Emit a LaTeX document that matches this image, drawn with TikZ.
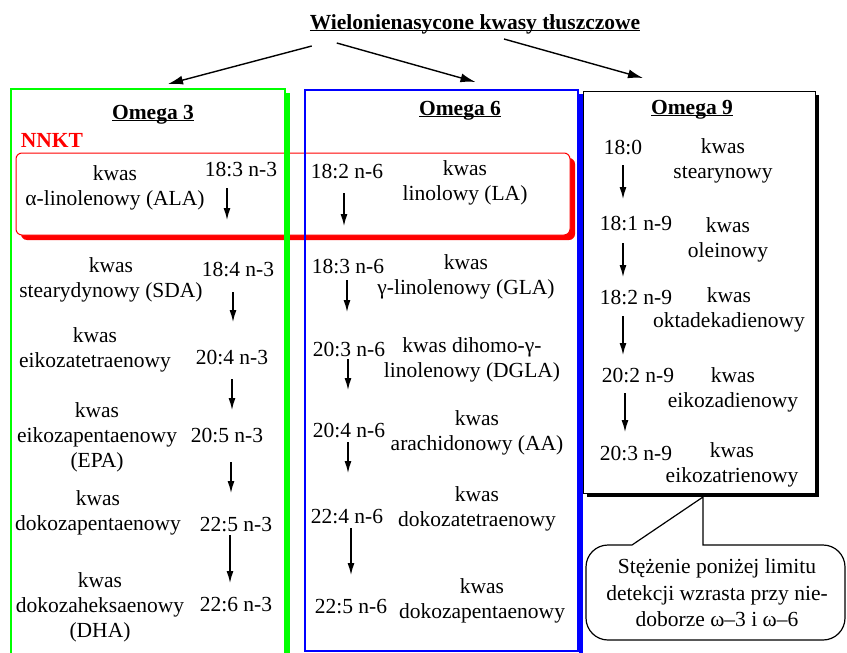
\documentclass[tikz,border=0pt]{standalone}
\usepackage{fontspec}
\setmainfont{Liberation Serif}
\usetikzlibrary{arrows.meta}
\usetikzlibrary{positioning}
\usetikzlibrary{shadows}
\tikzset{
% Define standard arrow tip
>={Latex[length=12pt,width=7pt]}
}
\newcommand{\ulhead}[1]{\underline{\smash{\textbf{#1}}}}

\begin{document}
\begin{tikzpicture}[x=1pt, y=-1pt, inner sep=0, outer sep=0,
  font=\fontsize{21.5}{25}\selectfont,
  acid/.style={align=center},
  head/.style={anchor=base},
  colbox/.style={rectangle, line width=1.3pt, anchor=north west},
  conv/.style={->, line width=1.3pt},
  topconv/.style={-{Latex[length=15pt,width=9pt]}, line width=1.4pt}]
  \clip (0,0) rectangle (847,653);

  \node[head] (title) at (475,29) {\ulhead{Wielonienasycone kwasy tłuszczowe}};

  % NNKT
  \node[draw=red, fill=white, line width=1pt, rounded corners=6, anchor=north west,
    minimum width=554, minimum height=82,
    drop shadow={shadow xshift=5pt, shadow yshift=-5pt, fill=red, opacity=1}] (nnktbox) at (16,153) {};

  % columns
  \node[colbox, draw=green, minimum width=274, minimum height=566] (o3box) at (11,89) {};
  \fill[green] ([xshift=1pt,yshift=-4pt]o3box.north east) rectangle ([xshift=5pt]o3box.south east);
  \node[colbox, draw=blue, minimum width=273, minimum height=561] (o6box) at (305,90) {};
  \fill[blue] ([xshift=1pt,yshift=-4pt]o6box.north east) rectangle ([xshift=5pt,yshift=-4pt]o6box.south east);
  \node[colbox, line width=1pt, draw=black, fill=white, minimum width=232, minimum height=402,
    drop shadow={shadow xshift=4pt, shadow yshift=-4pt, fill=black, opacity=1}] (o9box) at (583,91) {};

  \draw[topconv] ([xshift=2pt,yshift=-15pt]title.south west) -- ([xshift=20pt,yshift=5pt]o3box.north);
  \draw[topconv] ([xshift=27pt,yshift=-12pt]title.south west) -- ([xshift=34pt,yshift=8pt]o6box.north);
  \draw[topconv] ([xshift=29pt,yshift=-8pt]title.south) -- ([xshift=-56pt,yshift=13pt]o9box.north);

  \node[head] (o3h) at (153,119) {\ulhead{Omega 3}};
  \node[head] (o6h) at (460,115) {\ulhead{Omega 6}};
  \node[head] (o9h) at (692,114) {\ulhead{Omega 9}};
  \node[text=red, font=\fontsize{21.5}{25}\selectfont\bfseries] (nnkt) at (52,140) {NNKT};

  % omega 3
  \node[acid] (nALA) at (115,188) {kwas\\α-linolenowy (ALA)};
  \node (cALA) at (241,170) {18:3 n-3};
  \node[acid] (nSDA) at (111,280) {kwas\\stearydynowy (SDA)};
  \node (cSDA) at (238,270) {18:4 n-3};
  \node[acid] (nETA) at (95,350) {kwas\\eikozatetraenowy};
  \node (cETA) at (232,358) {20:4 n-3};
  \node[acid] (nEPA) at (97,437) {kwas\\eikozapentaenowy\\(EPA)};
  \node (cEPA) at (227,435) {20:5 n-3};
  \node[acid] (nDPA) at (98,513) {kwas\\dokozapentaenowy};
  \node (cDPA) at (236,525) {22:5 n-3};
  \node[acid] (nDHA) at (100,607) {kwas\\dokozaheksaenowy\\(DHA)};
  \node (cDHA) at (236,605) {22:6 n-3};

  \draw[conv] (cALA) ++(-14,18) -- ++(0,32);
  \draw[conv] (cSDA) ++(-5,22) -- ++(0,30);
  \draw[conv] (cETA) ++(0,21) -- ++(0,31);
  \draw[conv] (cEPA) ++(4,27) -- ++(0,31);
  \draw[conv] (cDPA) ++(-6,10) -- ++(0,48);

  % omega 6
  \node[acid] (nLA) at (465,183) {kwas\\linolowy (LA)};
  \node (cLA) at (347,172) {18:2 n-6};
  \node[acid] (nGLA) at (466,277) {kwas\\γ-linolenowy (GLA)};
  \node (cGLA) at (348,267) {18:3 n-6};
  \node[acid] (nDGLA) at (472,360) {kwas dihomo-γ-\\linolenowy (DGLA)};
  \node (cDGLA) at (349,349) {20:3 n-6};
  \node[acid] (nAA) at (477,433) {kwas\\arachidonowy (AA)};
  \node (cAA) at (349,430) {20:4 n-6};
  \node[acid] (nDTA) at (477,509) {kwas\\dokozatetraenowy};
  \node (cDTA) at (347,517) {22:4 n-6};
  \node[acid] (nDPA6) at (482,601) {kwas\\dokozapentaenowy};
  \node (cDPA6) at (351,607) {22:5 n-6};

  \draw[conv] (cLA) ++(-3,21) -- ++(0,33);
  \draw[conv] (cGLA) ++(-1,13) -- ++(0,32);
  \draw[conv] (cDGLA) ++(-1,10) -- ++(0,31);
  \draw[conv] (cAA) ++(-1,12) -- ++(0,31);
  \draw[conv] (cDTA) ++(4,11) -- ++(0,47);

  % omega 9
  \node[acid] (nST) at (723,161) {kwas\\stearynowy};
  \node (cST) at (623,148) {18:0};
  \node[acid] (nOL) at (728,240) {kwas\\oleinowy};
  \node (cOL) at (636,224) {18:1 n-9};
  \node[acid] (nOD) at (729,310) {kwas\\oktadekadienowy};
  \node (cOD) at (636,298) {18:2 n-9};
  \node[acid] (nED) at (733,390) {kwas\\eikozadienowy};
  \node (cED) at (638,376) {20:2 n-9};
  \node[acid] (nET) at (732,465) {kwas\\eikozatrienowy};
  \node (cET) at (636,453) {20:3 n-9};

  \draw[conv] (cST) ++(0,17) -- ++(0,34);
  \draw[conv] (cOL) ++(-13,19) -- ++(0,34);
  \draw[conv] (cOD) ++(-13,18) -- ++(0,39);
  \draw[conv] (cED) ++(-13,17) -- ++(0,39);

  % callout
  \draw[line width=1.2pt, fill=white] ([xshift=4pt,yshift=-4pt]o9box.south) -- (632,545) -- (608,545)
    arc[start angle=270, end angle=180, radius=22] -- (586,618)
    arc[start angle=180, end angle=90, radius=22] -- (823,640)
    arc[start angle=90, end angle=0, radius=22] -- (845,567)
    arc[start angle=0, end angle=-90, radius=22] -- (703,545) -- cycle;
  \node[acid, font=\fontsize{21.5}{26.5}\selectfont] (note) at (717,593) {Stężenie poniżej limitu\\detekcji wzrasta przy nie-\\doborze ω–3 i ω–6};
\end{tikzpicture}
\end{document}
